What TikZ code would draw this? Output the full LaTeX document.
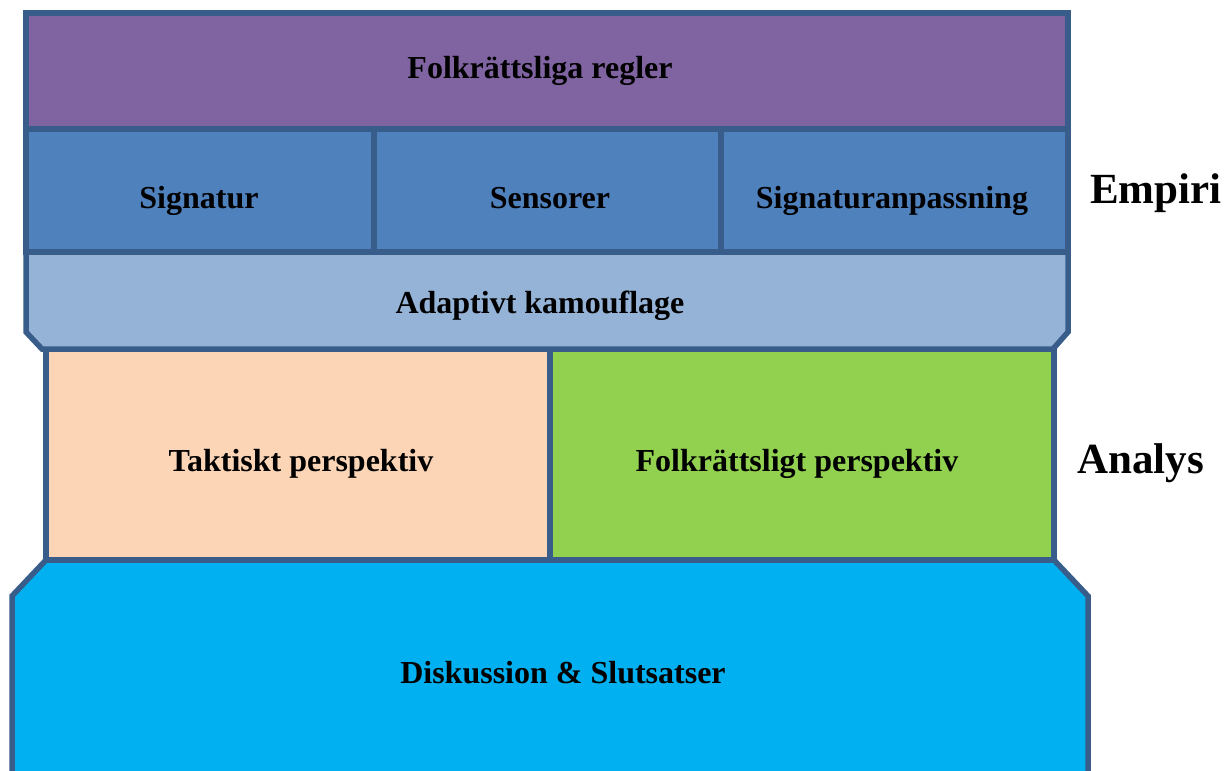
\documentclass[tikz,border=0pt]{standalone}
\usepackage{fontspec}
\setmainfont{Liberation Serif}
\definecolor{edge}{HTML}{385D8A}
\definecolor{cpurple}{HTML}{8064A2}
\definecolor{cblue}{HTML}{4F81BD}
\definecolor{clight}{HTML}{95B3D7}
\definecolor{cpeach}{HTML}{FBD5B5}
\definecolor{cgreen}{HTML}{92D050}
\definecolor{ccyan}{HTML}{00B0F0}
\tikzset{
  panel/.style={draw=edge, line width=5.5pt, line join=miter},
  lbl/.style={font=\fontsize{32}{36}\selectfont\bfseries, anchor=base, inner sep=0pt},
  side/.style={font=\fontsize{43}{48}\selectfont\bfseries, anchor=base west, inner sep=0pt}
}
\begin{document}
\begin{tikzpicture}[x=1pt,y=-1pt]
\clip (0,0) rectangle (1224,771);
\fill[white] (0,0) rectangle (1224,771);
% bottom box
\draw[panel, fill=ccyan] (46,560) -- (1054,560) -- (1088,596) -- (1088,800) -- (12,800) -- (12,596) -- cycle;
% analysis row
\draw[panel, fill=cpeach] (46,349) rectangle (550,560);
\draw[panel, fill=cgreen] (550,349) rectangle (1054,560);
% adaptive camouflage
\draw[panel, fill=clight] (26,252) -- (1068,252) -- (1068,332) -- (1053,349) -- (42,349) -- (26,332) -- cycle;
% blue row
\draw[panel, fill=cblue] (26,129) rectangle (374,252);
\draw[panel, fill=cblue] (374,129) rectangle (721,252);
\draw[panel, fill=cblue] (721,129) rectangle (1068,252);
% purple
\draw[panel, fill=cpurple] (26,13) rectangle (1068,129);
% labels
\node[lbl] (regler) at (540,78) {Folkrättsliga regler};
\node[lbl] (sig) at (199,208) {Signatur};
\node[lbl] (sens) at (550,208) {Sensorer};
\node[lbl] (anp) at (892,208) {Signaturanpassning};
\node[lbl] (adapt) at (540,313) {Adaptivt kamouflage};
\node[lbl] (takt) at (301,471) {Taktiskt perspektiv};
\node[lbl] (folk) at (797,471) {Folkrättsligt perspektiv};
\node[lbl] (disk) at (563,683) {Diskussion \& Slutsatser};
\node[side] (empiri) at (1090,203) {Empiri};
\node[side] (analys) at (1077,473) {Analys};
\end{tikzpicture}
\end{document}
